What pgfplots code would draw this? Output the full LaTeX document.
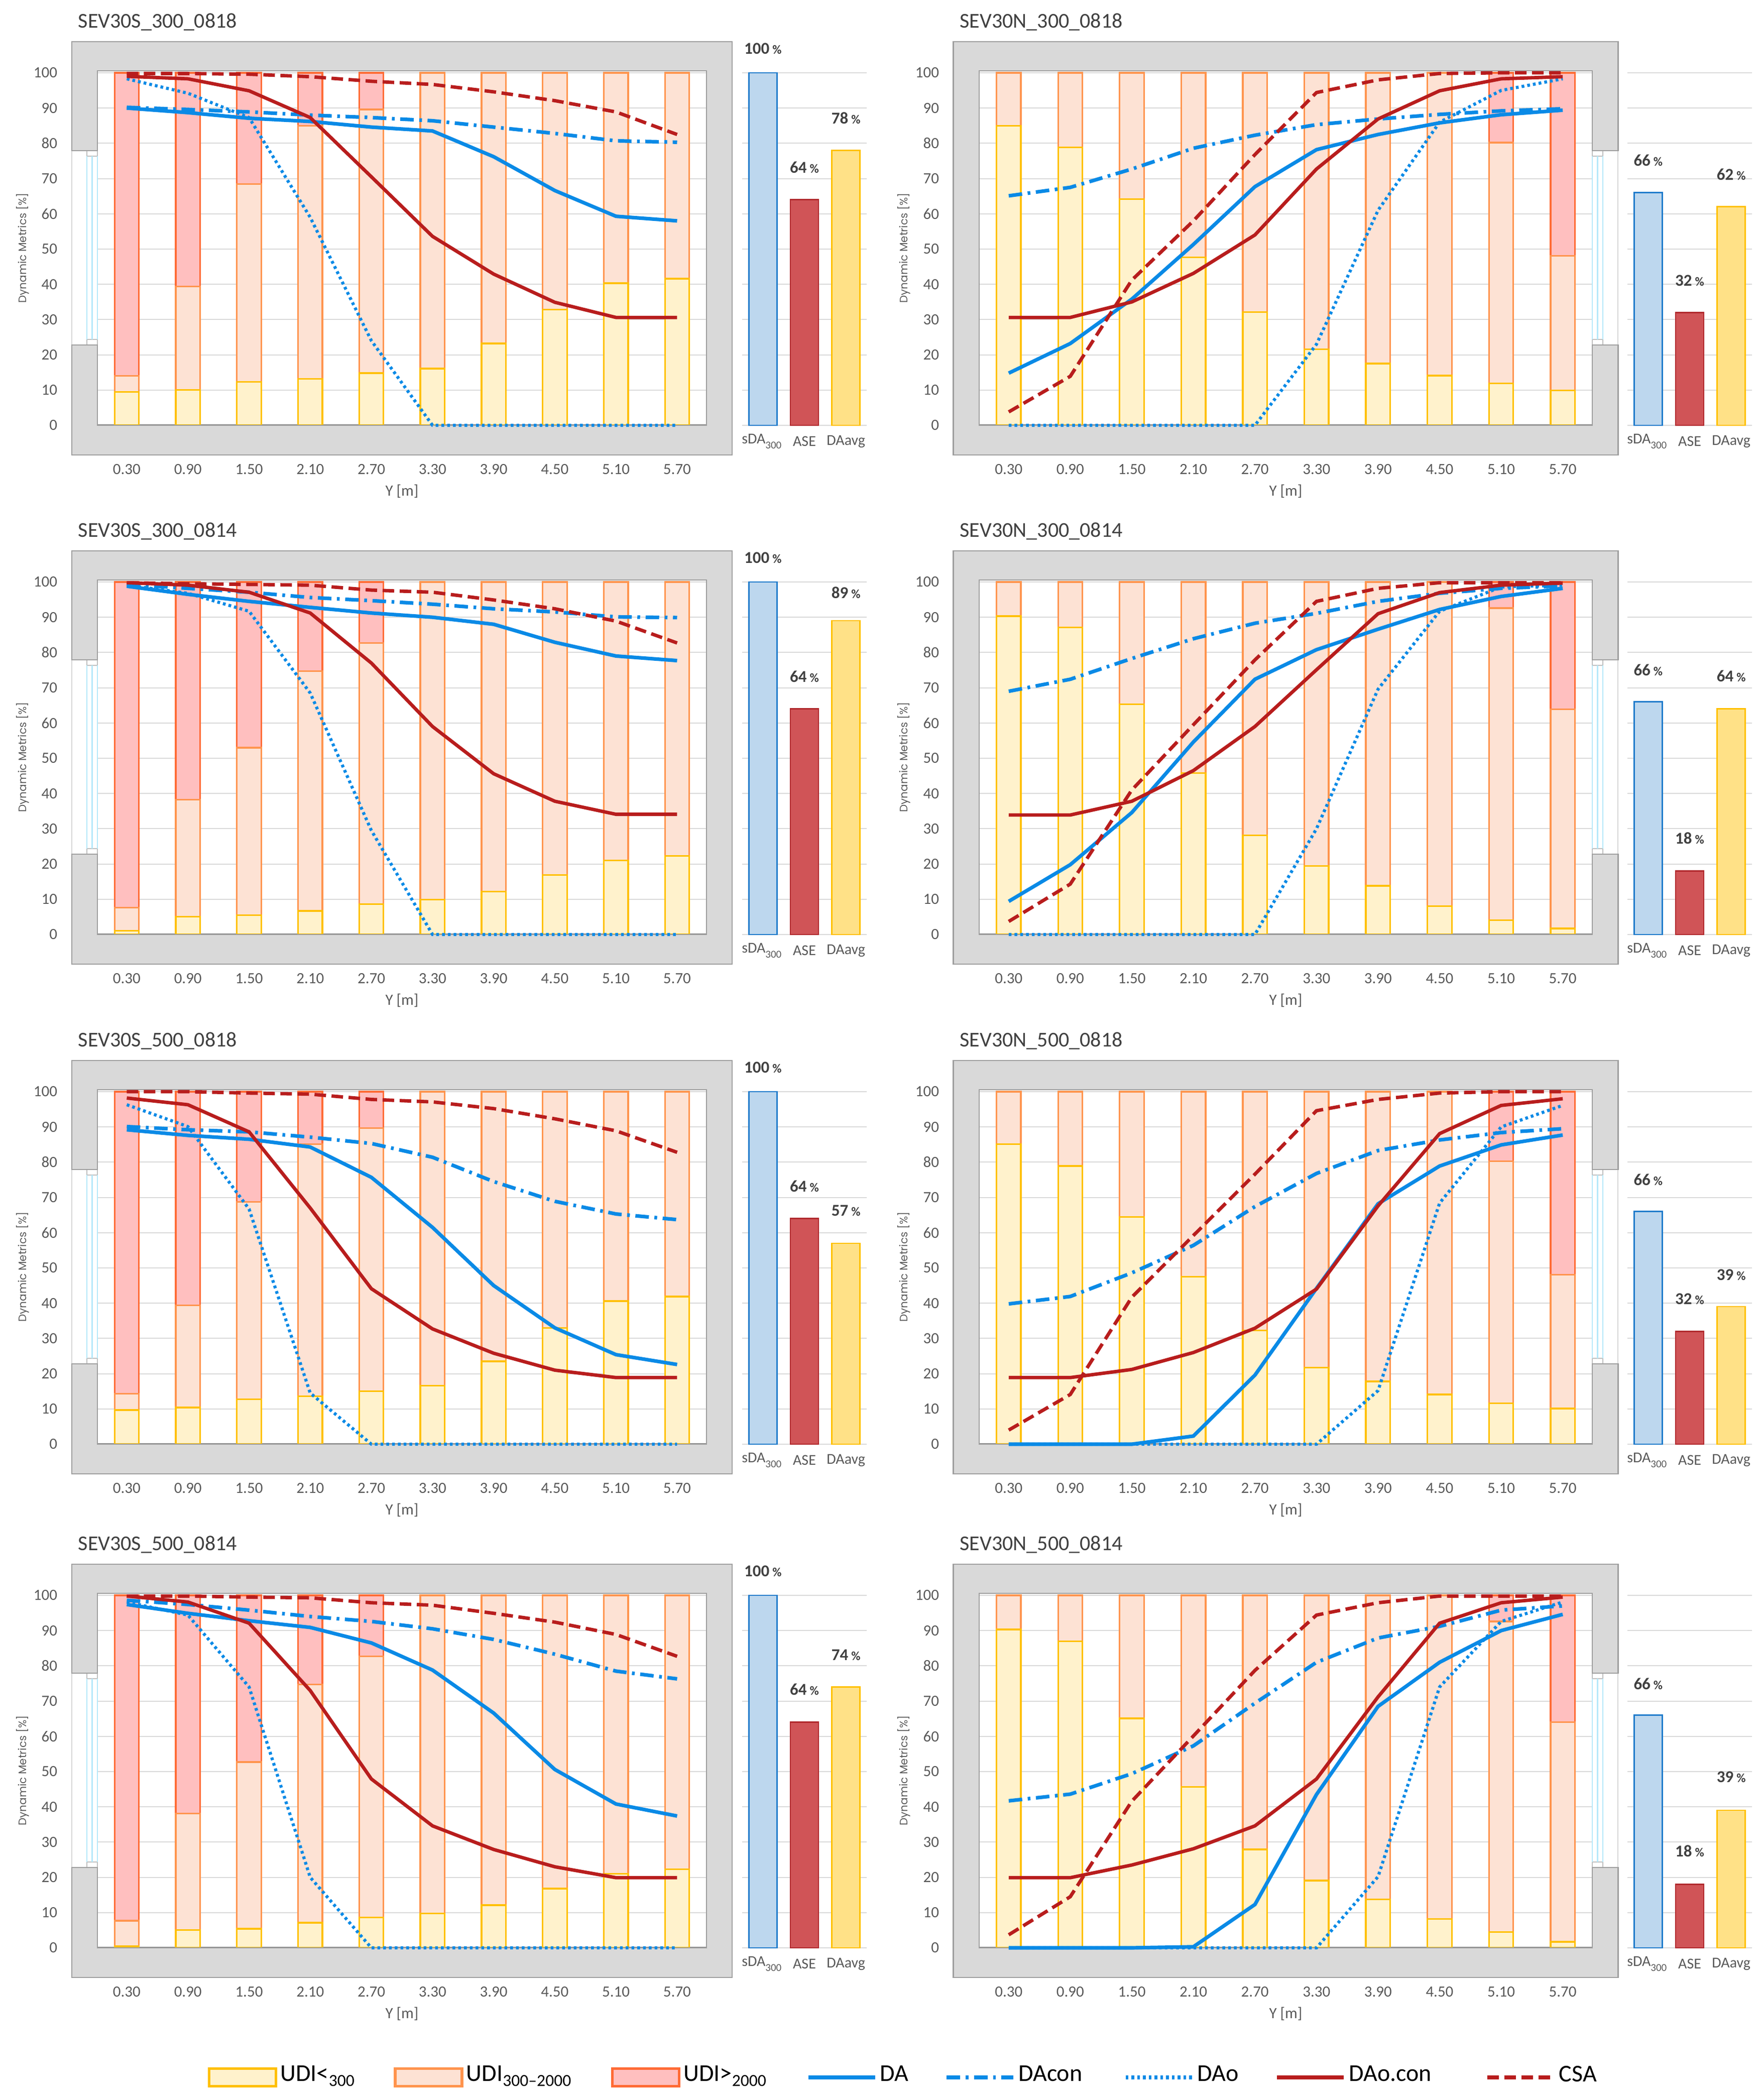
\documentclass[border=0pt]{standalone}
\usepackage{fontspec}
\setmainfont{Carlito}
\newfontfamily\gothic{Poppins}
\usepackage{pgfplots}
\usepackage{pgfplotstable}
\pgfplotsset{compat=1.18}

\definecolor{wallfill}{HTML}{D9D9D9}
\definecolor{walldraw}{HTML}{9E9E9E}
\definecolor{winc}{HTML}{D6D6D6}
\definecolor{ledgec}{HTML}{BFBFBF}
\definecolor{glassc}{HTML}{B5E8FA}
\definecolor{gridc}{HTML}{D9D9D9}
\definecolor{labc}{HTML}{595959}
\definecolor{titlec}{HTML}{404040}
\definecolor{axisdark}{HTML}{7F7F7F}
\definecolor{udiLfill}{HTML}{FFF2CC}
\definecolor{udiLdraw}{HTML}{FFC000}
\definecolor{udiMfill}{HTML}{FDE2D4}
\definecolor{udiMdraw}{HTML}{FF944D}
\definecolor{udiHfill}{HTML}{FFBFBF}
\definecolor{udiHdraw}{HTML}{FF6B35}
\definecolor{cDA}{HTML}{0A8AE6}
\definecolor{cRed}{HTML}{B81D1D}
\definecolor{sdaF}{HTML}{BDD7EE}
\definecolor{sdaD}{HTML}{1F7BCB}
\definecolor{aseF}{HTML}{D05457}
\definecolor{aseD}{HTML}{B0282C}
\definecolor{davF}{HTML}{FFE187}
\definecolor{davD}{HTML}{FFC000}

\newcommand\fs[1]{\fontsize{#1}{#1}\selectfont}

\pgfplotsset{
 udiL/.style={fill=udiLfill, draw=udiLdraw, line width=0.33pt},
 udiM/.style={fill=udiMfill, draw=udiMdraw, line width=0.33pt},
 udiH/.style={fill=udiHfill, draw=udiHdraw, line width=0.33pt},
 boxleg/.style={legend image code/.code={\draw[##1, line width=0.55pt] (0pt,-1.75pt) rectangle (13.3pt,1.75pt);}},
 lineleg/.style={legend image code/.code={\draw[##1, line width=0.85pt] (0pt,0pt) -- (13.3pt,0pt);}},
 lDA/.style={cDA, line width=0.72pt, mark=none, lineleg},
 lDAc/.style={cDA, line width=0.72pt, mark=none, dash pattern=on 2.7pt off 1.1pt on 0.55pt off 1.1pt, lineleg},
 lDAo/.style={cDA, line width=0.62pt, mark=none, dash pattern=on 0.55pt off 0.6pt, lineleg},
 lDAoc/.style={cRed, line width=0.68pt, mark=none, lineleg},
 lCSA/.style={cRed, line width=0.68pt, mark=none, dash pattern=on 2.3pt off 1.1pt, lineleg},
 mainax/.style={
  scale only axis, anchor=south west, height=70.62pt,
  xmin=-0.48, xmax=9.48, ymin=0, ymax=100.6,
  clip=false,
  axis line style={draw=none},
  major tick length=0pt, tick style={draw=none},
  xtick={0,...,9},
  xticklabels={0.30,0.90,1.50,2.10,2.70,3.30,3.90,4.50,5.10,5.70},
  ytick={0,10,...,100},
  ymajorgrids, major grid style={draw=gridc, line width=0.2pt},
  tick label style={font=\fs{3.1}, text=labc},
  yticklabel style={anchor=east, inner sep=0pt, xshift=-7.8pt},
  xticklabel style={anchor=center, inner sep=0pt, yshift=-8.8pt},
  xlabel={Y [m]},
  xlabel style={at={(axis description cs:0.5,-0.1855)}, anchor=center, inner sep=0pt, font=\fs{3.1}, text=labc},
  ylabel={Dynamic Metrics [\%]},
  ylabel style={at={(axis description cs:-0.1225,0.5)}, anchor=center, inner sep=0pt, font=\gothic\fs{2.15}, text=labc},
  /pgf/number format/assume math mode=true,
  ybar stacked, bar width=4.85pt,
 },
 overax/.style={
  scale only axis, anchor=south west, height=70.62pt,
  xmin=-0.48, xmax=9.48, ymin=0, ymax=100.6,
  clip=false, hide axis,
 },
 sideax/.style={
  scale only axis, anchor=south west, height=70.62pt, width=24.8pt,
  xmin=-0.5, xmax=2.5, ymin=0, ymax=100.6,
  clip=false,
  axis line style={draw=none},
  major tick length=0pt, tick style={draw=none},
  ytick={0,10,...,100}, yticklabels={},
  ymajorgrids, major grid style={draw=gridc, line width=0.2pt},
  xtick={0,1,2},
  xticklabels={sDA\textsubscript{300},ASE,DAavg},
  xticklabel style={anchor=center, inner sep=0pt, yshift=-3.2pt, font=\fs{3.0}, text=labc},
  ybar, bar width=5.6pt, bar shift=0pt,
 },
}

% walls
\newcommand\wallS{%
 \filldraw[fill=wallfill, draw=walldraw, line width=0.25pt] (axis cs:-0.48,77.9) -- (axis cs:-0.90,77.9) -- (axis cs:-0.90,108.8) -- (axis cs:9.90,108.8) -- (axis cs:9.90,-8.4) -- (axis cs:-0.90,-8.4) -- (axis cs:-0.90,22.8) -- (axis cs:-0.48,22.8) -- (axis cs:-0.48,0) -- (axis cs:9.48,0) -- (axis cs:9.48,100.6) -- (axis cs:-0.48,100.6) -- cycle;
 \draw[winc, line width=0.2pt] (axis cs:-0.90,22.8) -- (axis cs:-0.90,77.9);
 \draw[glassc, line width=0.25pt] (axis cs:-0.652,24.4) -- (axis cs:-0.652,76.3) (axis cs:-0.566,24.4) -- (axis cs:-0.566,76.3) (axis cs:-0.48,24.4) -- (axis cs:-0.48,76.3);
 \filldraw[fill=white, draw=ledgec, line width=0.2pt] (axis cs:-0.652,77.9) rectangle (axis cs:-0.48,76.3);
 \filldraw[fill=white, draw=ledgec, line width=0.2pt] (axis cs:-0.652,24.4) rectangle (axis cs:-0.48,22.8);
}
\newcommand\wallN{%
 \filldraw[fill=wallfill, draw=walldraw, line width=0.25pt] (axis cs:9.48,77.9) -- (axis cs:9.90,77.9) -- (axis cs:9.90,108.8) -- (axis cs:-0.90,108.8) -- (axis cs:-0.90,-8.4) -- (axis cs:9.90,-8.4) -- (axis cs:9.90,22.8) -- (axis cs:9.48,22.8) -- (axis cs:9.48,0) -- (axis cs:-0.48,0) -- (axis cs:-0.48,100.6) -- (axis cs:9.48,100.6) -- cycle;
 \draw[winc, line width=0.2pt] (axis cs:9.90,22.8) -- (axis cs:9.90,77.9);
 \draw[glassc, line width=0.25pt] (axis cs:9.652,24.4) -- (axis cs:9.652,76.3) (axis cs:9.566,24.4) -- (axis cs:9.566,76.3) (axis cs:9.48,24.4) -- (axis cs:9.48,76.3);
 \filldraw[fill=white, draw=ledgec, line width=0.2pt] (axis cs:9.48,77.9) rectangle (axis cs:9.652,76.3);
 \filldraw[fill=white, draw=ledgec, line width=0.2pt] (axis cs:9.48,24.4) rectangle (axis cs:9.652,22.8);
}

\newcommand\mainpanel[6]{%
 \begin{axis}[mainax, at={(#1,#2)}, width=#3]
  #6
  \node[anchor=west, inner sep=0pt, font=\fs{4.2}, text=titlec] at (axis cs:-0.81,114.4) {#4};
  \addplot[udiL] table[x=x,y=L]{#5};
  \addplot[udiM] table[x=x,y=M]{#5};
  \addplot[udiH] table[x=x,y=H]{#5};
  \draw[axisdark, line width=0.35pt] (axis cs:-0.48,0) -- (axis cs:9.48,0);
 \end{axis}}

\newcommand\overpanel[7][]{%
 \begin{axis}[overax, at={(#2,#3)}, width=#4, #1]
  #6
  \addplot[lDA] table[x=x,y=DA]{#5};
  \addplot[lDAc] table[x=x,y=DAc]{#5};
  \addplot[lDAo] table[x=x,y=DAo]{#5};
  \addplot[lDAoc] table[x=x,y=DAoc]{#5};
  \addplot[lCSA] table[x=x,y=CSA]{#5};
  #7
 \end{axis}}

\newcommand\sidepanel[8]{%
 \begin{axis}[sideax, at={(#1,#2)}]
  \addplot[fill=sdaF, draw=sdaD, line width=0.25pt, bar shift=0pt] coordinates {(0,#3)};
  \addplot[fill=aseF, draw=aseD, line width=0.25pt, bar shift=0pt] coordinates {(1,#4)};
  \addplot[fill=davF, draw=davD, line width=0.25pt, bar shift=0pt] coordinates {(2,#5)};
  \addplot[draw=none, fill=none, bar shift=0pt, point meta=explicit symbolic,
   nodes near coords={\textbf{\pgfplotspointmeta}\hspace{0.6pt}{\fs{2.5}\textbf{\%}}},
   nodes near coords style={anchor=center, font=\fs{3.3}, text=titlec, inner sep=0pt}]
   coordinates {(0,#6)[#3] (1,#7)[#4] (2,#8)[#5]};
 \end{axis}}

% data: x, UDI<300, UDI300-2000, UDI>2000, DA, DAcon, DAo, DAo.con, CSA
\pgfplotstableread{
x L M H DA DAc DAo DAoc CSA
0 9.5 4.5 86.0 90.0 90.2 98.3 99.0 99.8
1 10.0 29.4 60.6 88.7 89.6 94.2 98.3 99.8
2 12.3 56.1 31.6 87.1 88.9 87.3 94.9 99.6
3 13.2 71.8 15.0 86.2 88.0 59.0 87.3 98.9
4 14.8 74.8 10.4 84.6 87.3 24.0 70.5 97.6
5 16.1 83.9 0 83.5 86.4 0 53.6 96.7
6 23.2 76.8 0 76.2 84.6 0 42.9 94.6
7 32.8 67.2 0 66.6 82.8 0 34.9 92.1
8 40.3 59.7 0 59.3 80.7 0 30.6 88.9
9 41.6 58.4 0 58.0 80.3 0 30.6 82.5
}\tabA
\pgfplotstableread{
x L M H DA DAc DAo DAoc CSA
0 85.0 15.0 0 14.8 65.1 0 30.6 3.8
1 78.8 21.2 0 23.2 67.5 0 30.6 13.9
2 64.2 35.8 0 35.8 72.7 0 35.0 41.2
3 47.6 52.4 0 51.3 78.6 0 43.1 58.0
4 32.1 67.9 0 67.7 82.3 0 54.0 76.8
5 21.6 78.4 0 78.2 85.3 23.0 72.7 94.4
6 17.5 82.5 0 82.5 86.9 61.0 86.9 98.0
7 14.1 85.9 0 85.8 88.2 86.0 94.9 99.8
8 11.9 68.3 19.8 88.1 89.2 95.0 98.3 100
9 9.9 38.2 51.9 89.4 89.8 98.3 98.9 100
}\tabB
\pgfplotstableread{
x L M H DA DAc DAo DAoc CSA
0 1.1 6.5 92.4 98.8 99.3 99.1 99.8 99.8
1 5.1 33.1 61.8 96.5 98.2 96.8 99.1 99.5
2 5.5 47.5 47.0 94.5 97.1 91.7 97.1 99.3
3 6.7 68.0 25.3 92.8 95.6 68.5 91.2 99.1
4 8.6 74.1 17.3 91.2 94.7 29.5 77.0 97.7
5 9.9 90.1 0 90.0 93.7 0 59.0 97.1
6 12.2 87.8 0 88.0 92.4 0 45.6 94.9
7 16.9 83.1 0 82.9 91.5 0 37.8 92.4
8 21.0 79.0 0 79.0 90.1 0 34.1 88.9
9 22.3 77.7 0 77.7 89.9 0 34.1 82.7
}\tabC
\pgfplotstableread{
x L M H DA DAc DAo DAoc CSA
0 90.3 9.7 0 9.4 69.0 0 33.9 3.7
1 87.1 12.9 0 19.8 72.4 0 33.9 14.3
2 65.3 34.7 0 34.6 78.3 0 37.8 41.0
3 45.8 54.2 0 54.6 83.9 0 46.5 59.5
4 28.1 71.9 0 72.4 88.3 0 59.0 77.9
5 19.4 80.6 0 80.8 91.1 30.0 75.1 94.5
6 13.8 86.2 0 86.6 94.5 69.6 91.0 98.2
7 8.0 92.0 0 92.2 96.8 91.7 97.0 99.8
8 4.1 88.5 7.4 95.9 98.2 98.6 99.1 99.8
9 1.7 62.2 36.1 98.2 98.9 99.1 99.7 99.8
}\tabD
\pgfplotstableread{
x L M H DA DAc DAo DAoc CSA
0 9.7 4.6 85.7 89.2 90.1 96.3 98.2 100
1 10.4 29.0 60.6 87.6 89.2 90.1 96.3 100
2 12.7 56.0 31.3 86.5 88.6 66.7 88.6 99.6
3 13.6 71.5 14.9 84.3 87.1 14.5 67.0 99.3
4 15.0 74.7 10.3 75.7 85.3 0 44.1 97.8
5 16.6 83.4 0 61.5 81.4 0 32.7 97.1
6 23.5 76.5 0 45.0 74.5 0 25.8 95.2
7 33.0 67.0 0 33.0 68.9 0 21.0 92.3
8 40.6 59.4 0 25.4 65.3 0 18.9 88.9
9 41.9 58.1 0 22.6 63.7 0 18.9 82.8
}\tabE
\pgfplotstableread{
x L M H DA DAc DAo DAoc CSA
0 85.1 14.9 0 0 39.8 0 18.9 4.0
1 78.9 21.1 0 0 41.9 0 18.9 14.1
2 64.5 35.5 0 0 48.6 0 21.2 41.7
3 47.5 52.5 0 2.3 56.4 0 26.0 59.2
4 32.3 67.7 0 19.6 67.4 0 32.9 76.6
5 21.7 78.3 0 44.2 76.8 0 44.0 94.6
6 17.8 82.2 0 68.2 83.3 15.2 67.6 97.8
7 14.1 85.9 0 78.9 86.3 68.4 88.1 99.6
8 11.6 68.7 19.7 84.9 88.4 90.0 96.1 100
9 10.1 38.0 51.9 87.7 89.5 96.1 98.0 100
}\tabF
\pgfplotstableread{
x L M H DA DAc DAo DAoc CSA
0 0.5 7.2 92.3 97.4 98.6 98.1 99.8 99.8
1 5.1 33.0 61.9 94.9 97.4 94.4 98.1 99.8
2 5.4 47.3 47.3 92.8 95.8 74.0 92.1 99.5
3 7.1 67.6 25.3 90.9 94.0 20.0 73.0 99.3
4 8.6 74.1 17.3 86.5 92.6 0 47.9 97.9
5 9.8 90.2 0 78.8 90.5 0 34.6 97.2
6 12.1 87.9 0 66.6 87.5 0 27.9 94.9
7 16.8 83.2 0 50.6 83.3 0 23.0 92.4
8 21.0 79.0 0 40.8 78.5 0 19.9 88.9
9 22.3 77.7 0 37.4 76.3 0 19.9 82.7
}\tabG
\pgfplotstableread{
x L M H DA DAc DAo DAoc CSA
0 90.3 9.7 0 0 41.7 0 19.9 3.7
1 87.0 13.0 0 0 43.6 0 19.9 14.5
2 65.1 34.9 0 0 49.4 0 23.5 41.6
3 45.7 54.3 0 0.3 57.3 0 28.1 60.1
4 27.9 72.1 0 12.3 69.4 0 34.6 78.7
5 19.1 80.9 0 43.5 81.0 0 47.9 94.4
6 13.7 86.3 0 68.5 87.9 20.2 71.2 97.9
7 8.2 91.8 0 81.0 91.2 74.0 92.1 99.8
8 4.5 88.1 7.4 90.0 95.8 92.6 97.9 99.8
9 1.7 62.3 36.0 94.6 97.0 98.1 99.5 99.8
}\tabH

\begin{document}
\begin{tikzpicture}
\useasboundingbox (0,0) rectangle (351.1pt,418.2pt);

% Row 1
\mainpanel{19.4pt}{333.5pt}{121.3pt}{SEV30S\_300\_0818}{\tabA}{\wallS}
\overpanel{19.4pt}{333.5pt}{121.3pt}{\tabA}{}{}
\sidepanel{147.8pt}{333.5pt}{100}{64}{78}{106.8}{73.1}{87.1}
\mainpanel{195.0pt}{333.5pt}{122.1pt}{SEV30N\_300\_0818}{\tabB}{\wallN}
\overpanel{195.0pt}{333.5pt}{122.1pt}{\tabB}{}{}
\sidepanel{324.1pt}{333.5pt}{66}{32}{62}{75.1}{41.1}{71.1}

% Row 2
\mainpanel{19.4pt}{232.1pt}{121.3pt}{SEV30S\_300\_0814}{\tabC}{\wallS}
\overpanel{19.4pt}{232.1pt}{121.3pt}{\tabC}{}{}
\sidepanel{147.8pt}{232.1pt}{100}{64}{89}{106.8}{73.1}{97.0}
\mainpanel{195.0pt}{232.1pt}{122.1pt}{SEV30N\_300\_0814}{\tabD}{\wallN}
\overpanel{195.0pt}{232.1pt}{122.1pt}{\tabD}{}{}
\sidepanel{324.1pt}{232.1pt}{66}{18}{64}{75.0}{27.3}{73.3}

% Row 3
\mainpanel{19.4pt}{130.6pt}{121.3pt}{SEV30S\_500\_0818}{\tabE}{\wallS}
\overpanel{19.4pt}{130.6pt}{121.3pt}{\tabE}{}{}
\sidepanel{147.8pt}{130.6pt}{100}{64}{57}{106.8}{73.2}{66.2}
\mainpanel{195.0pt}{130.6pt}{122.1pt}{SEV30N\_500\_0818}{\tabF}{\wallN}
\overpanel{195.0pt}{130.6pt}{122.1pt}{\tabF}{}{}
\sidepanel{324.1pt}{130.6pt}{66}{32}{39}{75.0}{41.2}{48.0}

% Row 4
\mainpanel{19.4pt}{30.3pt}{121.3pt}{SEV30S\_500\_0814}{\tabG}{\wallS}
\overpanel[legend style={at={(0.1797,-0.3653)}, anchor=west, draw=none, fill=none,
    column sep=0pt, inner sep=0pt, font=\fs{4.8}, text=black,
    nodes={inner sep=0pt}}, legend columns=8, legend cell align=left]{19.4pt}{30.3pt}{121.3pt}{\tabG}{%
  \addlegendimage{udiL, boxleg}
  \addlegendimage{udiM, boxleg}
  \addlegendimage{udiH, boxleg}
}{%
  \legend{{\makebox[23.2pt][l]{\hspace{0.6pt}UDI<\textsubscript{300}}},
          {\makebox[29.4pt][l]{\hspace{0.6pt}UDI\textsubscript{300--2000}}},
          {\makebox[25.0pt][l]{\hspace{0.6pt}UDI>\textsubscript{2000}}},
          {\makebox[13.4pt][l]{\hspace{0.6pt}DA}},
          {\makebox[21.5pt][l]{\hspace{0.6pt}DAcon}},
          {\makebox[16.0pt][l]{\hspace{0.6pt}DAo}},
          {\makebox[27.7pt][l]{\hspace{0.6pt}DAo.con}},
          {\makebox[10.0pt][l]{\hspace{0.6pt}CSA}}}
}
\sidepanel{147.8pt}{30.3pt}{100}{64}{74}{106.8}{73.3}{83.0}
\mainpanel{195.0pt}{30.3pt}{122.1pt}{SEV30N\_500\_0814}{\tabH}{\wallN}
\overpanel{195.0pt}{30.3pt}{122.1pt}{\tabH}{}{}
\sidepanel{324.1pt}{30.3pt}{66}{18}{39}{74.9}{27.5}{48.5}
\end{tikzpicture}
\end{document}
